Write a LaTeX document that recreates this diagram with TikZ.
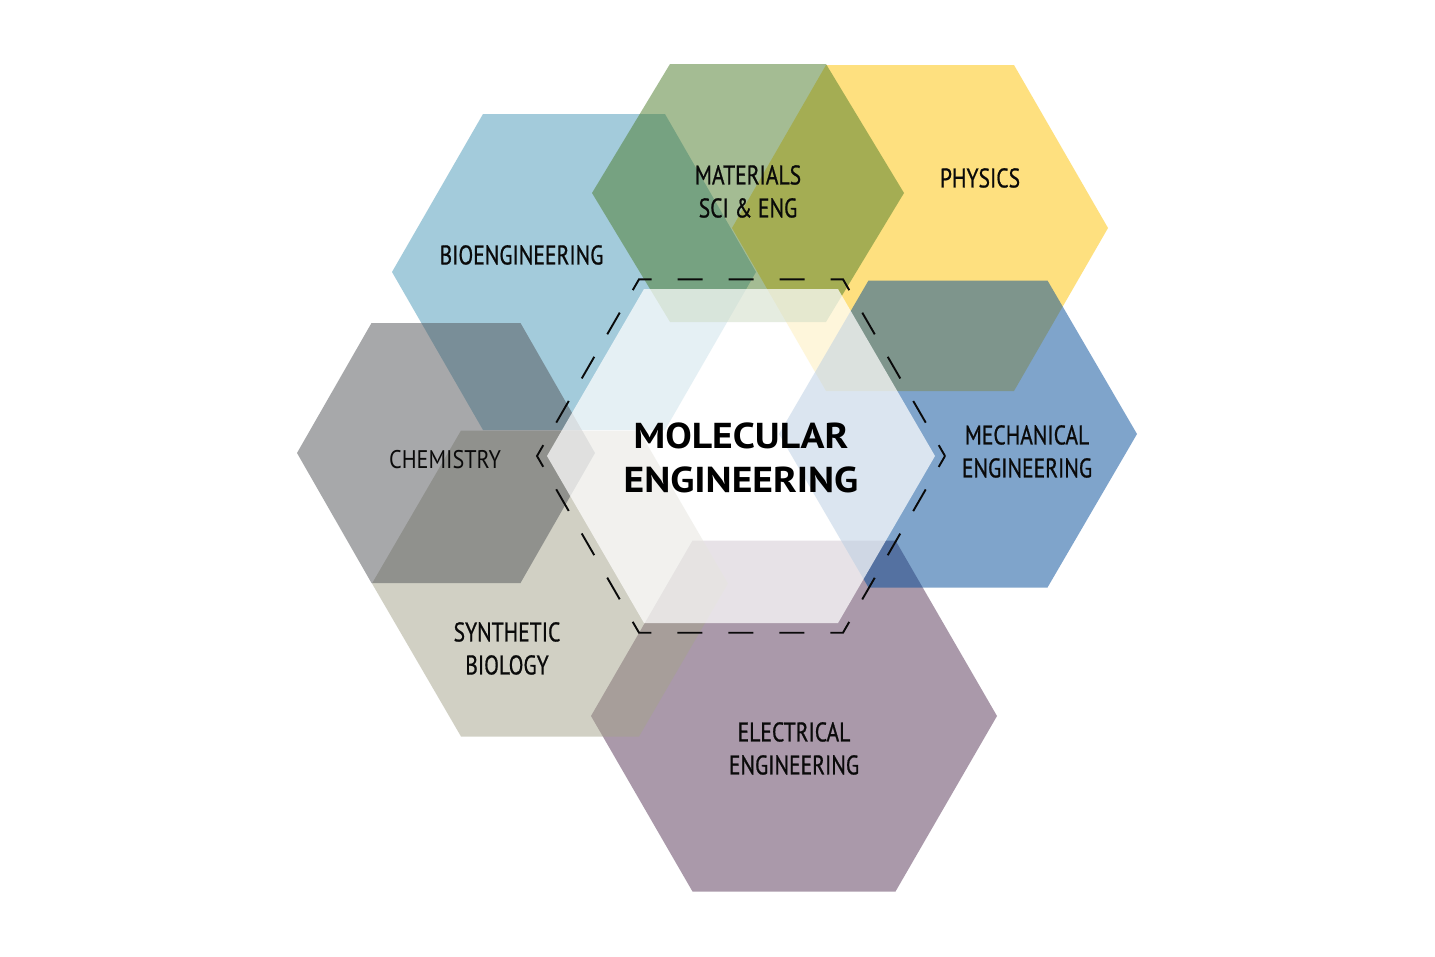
\documentclass[tikz,border=0pt]{standalone}
\usepackage{fontspec}
\setmainfont{PT Sans}
\newfontfamily\condfont[FakeStretch=0.8,FakeBold=0.7]{PT Sans}
\newfontfamily\chemfont[FakeStretch=0.87]{PT Sans}
\newfontfamily\molfont[FakeStretch=1.1]{PT Sans}
\definecolor{bioC}{RGB}{73,153,184}
\definecolor{physC}{RGB}{254,194,0}
\definecolor{matC}{RGB}{75,123,41}
\definecolor{elecC}{RGB}{87,53,87}
\definecolor{mechC}{RGB}{0,75,153}
\definecolor{synC}{RGB}{165,163,139}
\definecolor{chemC}{RGB}{81,83,87}
\definecolor{txtC}{RGB}{10,10,10}
\newcommand\myhex[5]{\path[#1] ({#2+#4},#3) -- ({#2+#4/2},{#3-#5}) -- ({#2-#4/2},{#3-#5}) -- ({#2-#4},#3) -- ({#2-#4/2},{#3+#5}) -- ({#2+#4/2},{#3+#5}) -- cycle;}
\begin{document}
\begin{tikzpicture}[x=1pt,y=-1pt,
  hexfill/.style={fill=#1, fill opacity=0.5},
  whitehex/.style={fill=white, fill opacity=0.72},
  dashhex/.style={draw=txtC, line width=1.9pt, dash pattern=on 25pt off 26pt, dash phase=12.5pt, line join=miter},
  lbl/.style={font=\condfont\fontsize{27}{33}\selectfont, text=txtC, align=center, inner sep=0pt, anchor=north},
  chemlbl/.style={font=\chemfont\fontsize{25.5}{30}\selectfont, text=txtC, inner sep=0pt, anchor=north},
  mainlbl/.style={font=\molfont\bfseries\fontsize{36}{44}\selectfont, text=black, align=center, inner sep=0pt, anchor=north}]
\useasboundingbox[fill=white] (0,0) rectangle (1435,956);
% discipline hexagons
\myhex{hexfill=bioC}{574}{272}{182}{158}
\myhex{hexfill=physC}{920}{228}{188}{163}
\myhex{hexfill=matC}{748}{193}{156}{129}
\myhex{hexfill=elecC}{794}{716}{203}{175.5}
\myhex{hexfill=mechC}{958}{434}{179}{153.5}
\myhex{hexfill=synC}{550}{583.5}{178}{153}
\myhex{hexfill=chemC}{446}{453}{149}{130}
% central hexagon
\myhex{whitehex}{741}{456}{194}{167}
\myhex{dashhex}{741}{456}{204}{176.7}
% labels
\node[lbl] (bio) at (521.5,245) {BIOENGINEERING};
\node[lbl] (mat) at (748,165) {MATERIALS\\SCI \& ENG};
\node[lbl] (phys) at (980,168) {PHYSICS};
\node[lbl] (mech) at (1027,425) {MECHANICAL\\ENGINEERING};
\node[lbl] (syn) at (507,622) {SYNTHETIC\\BIOLOGY};
\node[lbl] (elec) at (794,722) {ELECTRICAL\\ENGINEERING};
\node[chemlbl] (chem) at (445,450) {CHEMISTRY};
\node[mainlbl] (mol) at (741,423) {MOLECULAR\\ENGINEERING};
\end{tikzpicture}
\end{document}
